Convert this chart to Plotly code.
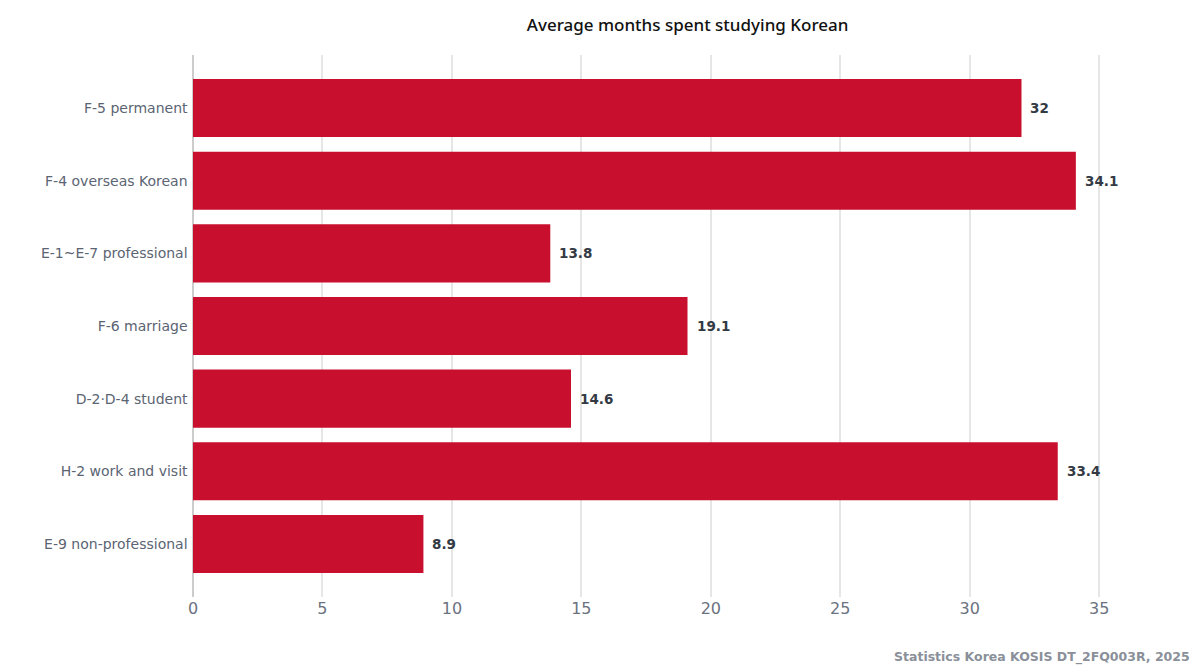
import plotly.graph_objects as go

categories = ["F-5 permanent", "F-4 overseas Korean", "E-1~E-7 professional",
              "F-6 marriage", "D-2·D-4 student", "H-2 work and visit", "E-9 non-professional"]
values = [32, 34.1, 13.8, 19.1, 14.6, 33.4, 8.9]
value_labels = ["32", "34.1", "13.8", "19.1", "14.6", "33.4", "8.9"]
x_ticks = [0, 5, 10, 15, 20, 25, 30, 35]

FONT = "DejaVu Sans, sans-serif"
TFONT = "Noto Sans, sans-serif"

fig = go.Figure(go.Bar(
    x=values, y=categories, orientation="h",
    marker=dict(color="#c8102e", line=dict(width=0)),
    hoverinfo="skip",
))

for v, c, t in zip(values, categories, value_labels):
    fig.add_annotation(x=v, y=c, text="<b>%s</b>" % t, showarrow=False,
                       xanchor="left", xshift=7,
                       font=dict(family=FONT, size=13.5, color="#333a44"))

fig.add_annotation(text="<b>Statistics Korea KOSIS DT_2FQ003R, 2025</b>",
                   xref="paper", yref="paper", x=1.0, y=-0.11,
                   xanchor="right", yanchor="middle", showarrow=False,
                   font=dict(family=FONT, size=12.5, color="#8a9099"), xshift=54)

fig.update_layout(
    width=1200, height=672,
    paper_bgcolor="white", plot_bgcolor="white",
    margin=dict(l=193, r=62, t=55, b=75),
    title=dict(text="Average months spent studying Korean", x=0.573, xref="container",
               xanchor="center", y=0.962, yanchor="middle",
               font=dict(family=TFONT, size=17, color="#111111", weight=500)),
    bargap=0.2,
    showlegend=False,
    font=dict(family=FONT),
)
fig.update_xaxes(range=[0, 36.5], tickvals=x_ticks, showgrid=True, gridcolor="#e6e6e6",
                 gridwidth=1.5, zeroline=True, zerolinecolor="#cccccc", zerolinewidth=1.5,
                 tickfont=dict(family=FONT, size=16, color="#6b7280"), ticks="", showline=False,
                 automargin=False, fixedrange=True)
fig.update_yaxes(categoryorder="array", categoryarray=categories,
                 range=[len(categories) - 1 + 0.73, -0.73],
                 tickfont=dict(family=FONT, size=14, color="#5b6472"), ticks="",
                 showgrid=False, showline=False, ticksuffix=" ", automargin=False,
                 fixedrange=True)

fig.write_html("out.html", config={"displayModeBar": False},
               post_script="document.body.style.margin='0';")
